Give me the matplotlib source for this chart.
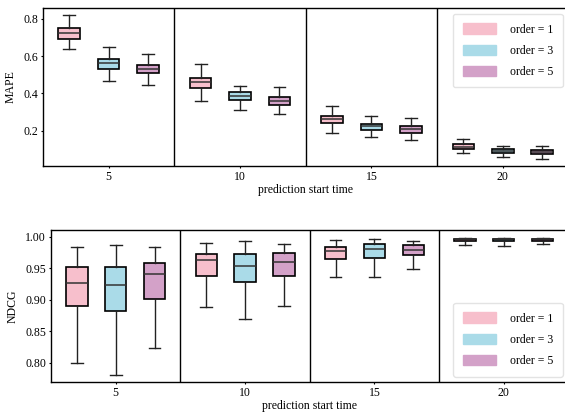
import matplotlib
matplotlib.use('Agg')
import matplotlib.pyplot as plt
import matplotlib.patches as mpatches

plt.rcParams['font.family'] = ['Liberation Serif', 'DejaVu Serif']

start_times = [5, 10, 15, 20]
orders = ['order = 1', 'order = 3', 'order = 5']
colours = ['#f7bfcc', '#aadbe8', '#d3a1c8']

# each entry: [whislo, q1, med, q3, whishi] per start time
mape_o1 = [[0.639, 0.691, 0.721, 0.751, 0.821],
           [0.361, 0.427, 0.459, 0.482, 0.559],
           [0.188, 0.240, 0.261, 0.281, 0.333],
           [0.080, 0.103, 0.113, 0.128, 0.158]]
mape_o3 = [[0.465, 0.532, 0.563, 0.586, 0.648],
           [0.310, 0.365, 0.384, 0.406, 0.441],
           [0.167, 0.204, 0.224, 0.238, 0.279],
           [0.062, 0.080, 0.090, 0.101, 0.120]]
mape_o5 = [[0.445, 0.507, 0.529, 0.550, 0.612],
           [0.292, 0.336, 0.358, 0.379, 0.436],
           [0.152, 0.190, 0.212, 0.226, 0.267],
           [0.049, 0.074, 0.085, 0.096, 0.120]]

ndcg_o1 = [[0.800, 0.890, 0.927, 0.952, 0.984],
           [0.889, 0.938, 0.963, 0.973, 0.990],
           [0.936, 0.965, 0.977, 0.984, 0.995],
           [0.987, 0.994, 0.996, 0.997, 0.999]]
ndcg_o3 = [[0.781, 0.883, 0.924, 0.952, 0.987],
           [0.869, 0.929, 0.954, 0.973, 0.993],
           [0.936, 0.967, 0.981, 0.989, 0.997],
           [0.986, 0.993, 0.996, 0.997, 0.999]]
ndcg_o5 = [[0.823, 0.901, 0.941, 0.958, 0.984],
           [0.890, 0.938, 0.961, 0.974, 0.989],
           [0.949, 0.971, 0.980, 0.987, 0.994],
           [0.989, 0.994, 0.996, 0.997, 0.999]]


def to_stats(rows):
    return [dict(whislo=r[0], q1=r[1], med=r[2], q3=r[3], whishi=r[4], fliers=[]) for r in rows]


def draw_panel(ax, series, ylabel, ylim, legend_loc):
    offsets = [-1.5, 0, 1.5]
    for rows, off, col in zip(series, offsets, colours):
        pos = [t + off for t in start_times]
        ax.bxp(to_stats(rows), positions=pos, widths=0.82, patch_artist=True,
               showfliers=False, manage_ticks=False,
               boxprops=dict(facecolor=col, edgecolor='black', linewidth=1.2),
               medianprops=dict(color='#333333', linewidth=1.1),
               whiskerprops=dict(color='#222222', linewidth=1.0),
               capprops=dict(color='#222222', linewidth=1.0),
               capwidths=0.45)
    for xv in [7.5, 12.5, 17.5]:
        ax.axvline(xv, color='black', lw=1.0)
    ax.set_xlim(2.5, 22.5)
    ax.set_ylim(ylim)
    ax.set_xticks(start_times)
    ax.set_xticklabels([str(t) for t in start_times])
    ax.set_xlabel('prediction start time', fontsize=8.5, labelpad=0.5)
    ax.set_ylabel(ylabel, fontsize=8.5, labelpad=5)
    ax.tick_params(labelsize=8.5, length=1.5, width=0.8, pad=2)
    for s in ax.spines.values():
        s.set_linewidth(1.0)
    handles = [mpatches.Patch(color=c, label=l) for c, l in zip(colours, orders)]
    ax.legend(handles=handles, loc=legend_loc, fontsize=8.5, frameon=True,
              edgecolor='#dddddd', borderpad=0.8, labelspacing=0.75,
              handlelength=2.8, handleheight=1.0, handletextpad=1.2)


fig = plt.figure(figsize=(5.65, 4.13), dpi=100)
ax1 = fig.add_axes([0.0761, 0.598, 0.93, 0.3826])
ax2 = fig.add_axes([0.0903, 0.074, 0.916, 0.369])

draw_panel(ax1, [mape_o1, mape_o3, mape_o5], 'MAPE', (0.012, 0.857), 'upper right')
ax1.set_yticks([0.2, 0.4, 0.6, 0.8])
draw_panel(ax2, [ndcg_o1, ndcg_o3, ndcg_o5], 'NDCG', (0.769, 1.011), 'lower right')
ax2.set_yticks([0.80, 0.85, 0.90, 0.95, 1.00])
ax2.set_yticklabels(['0.80', '0.85', '0.90', '0.95', '1.00'])

fig.savefig('out.png', dpi=100)
plt.close(fig)
